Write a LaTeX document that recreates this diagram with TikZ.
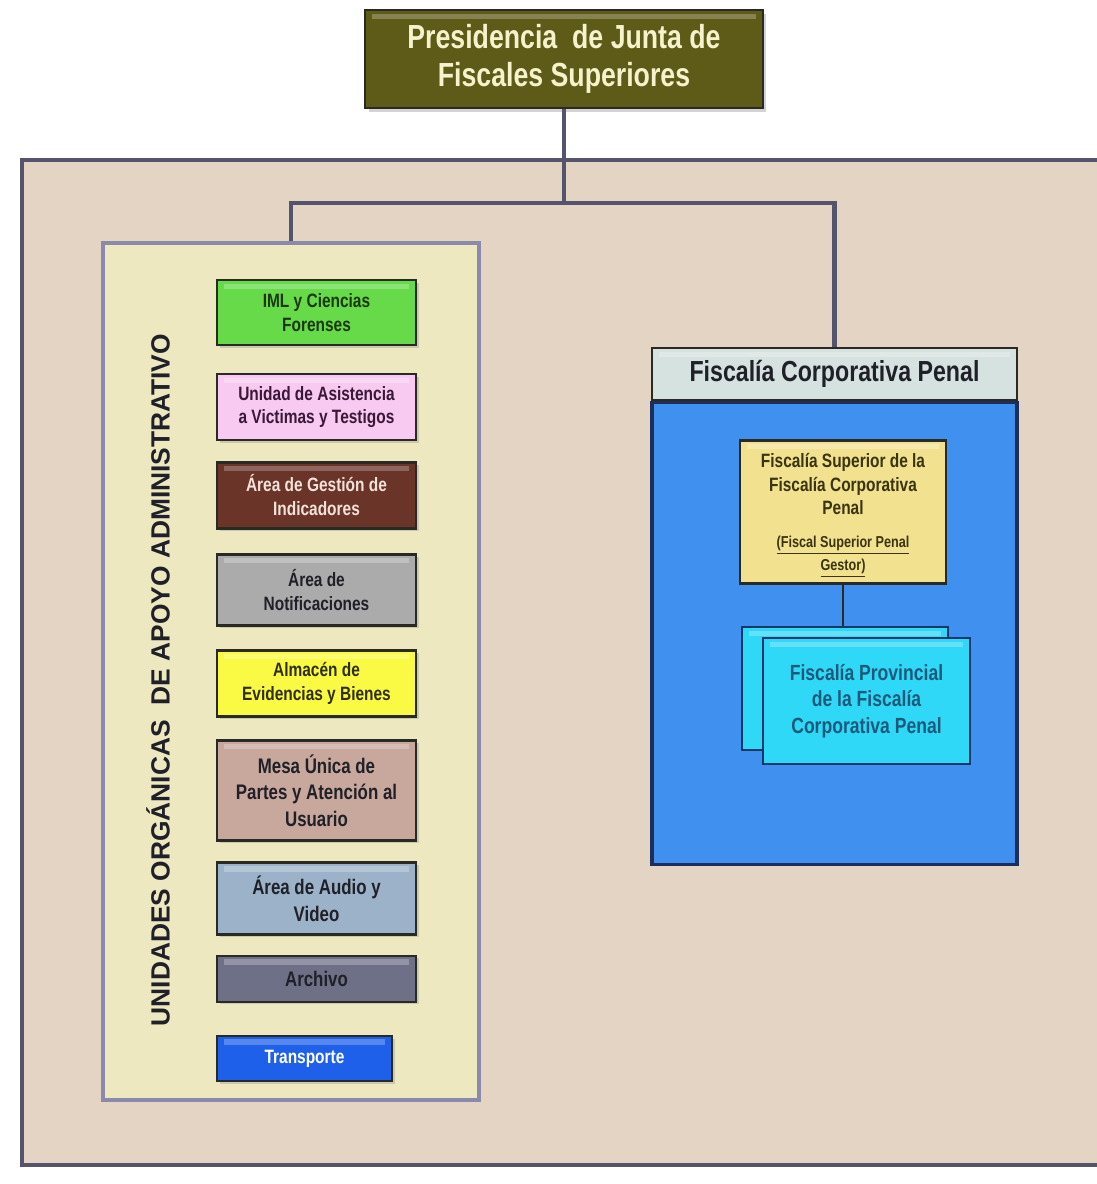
\documentclass[tikz,border=0pt]{standalone}
\usepackage{fontspec}
\setmainfont{Liberation Sans}
\newfontfamily\narrowfont{Liberation Sans}[FakeStretch=0.8]
\usepackage{tikz}
\usetikzlibrary{positioning}
\usetikzlibrary{shadows}

\definecolor{frameline}{HTML}{55546C}
\definecolor{framefill}{HTML}{E4D4C4}
\definecolor{panelfill}{HTML}{EEE8C0}
\definecolor{panelline}{HTML}{8C8AAA}
\definecolor{boxline}{HTML}{2A2A24}
\definecolor{olivebox}{HTML}{5E5A18}
\definecolor{creamtxt}{HTML}{F6F2CC}
\definecolor{imlfill}{HTML}{66DA48}
\definecolor{imltxt}{HTML}{1C3810}
\definecolor{victfill}{HTML}{F8CAF2}
\definecolor{victtxt}{HTML}{3A1838}
\definecolor{gestfill}{HTML}{6A3428}
\definecolor{gesttxt}{HTML}{F2E2DA}
\definecolor{notiffill}{HTML}{ABABAB}
\definecolor{almfill}{HTML}{FAFA44}
\definecolor{almtxt}{HTML}{2E2E10}
\definecolor{mesafill}{HTML}{C8A89C}
\definecolor{audiofill}{HTML}{9CB2C8}
\definecolor{archfill}{HTML}{6E7088}
\definecolor{transfill}{HTML}{1E60EA}
\definecolor{darktxt}{HTML}{202028}
\definecolor{fcpfill}{HTML}{D6E2E0}
\definecolor{azulfill}{HTML}{4090F0}
\definecolor{azulline}{HTML}{1E2E5A}
\definecolor{supfill}{HTML}{F2E290}
\definecolor{suptxt}{HTML}{3A3410}
\definecolor{provfill}{HTML}{30D8F8}
\definecolor{provline}{HTML}{10386A}
\definecolor{provtxt}{HTML}{1A5A7A}

\begin{document}
\begin{tikzpicture}[x=0.02cm, y=-0.02cm,
    gloss/.style={path picture={\fill[white, opacity=0.25]
        ([xshift=4pt,yshift=-2pt]path picture bounding box.north west) rectangle
        ([xshift=-4pt,yshift=-5pt]path picture bounding box.north east);}},
    unidad/.style={draw=boxline, line width=1.5pt, minimum width=3.98cm, minimum height=1.32cm,
        align=center, inner sep=1pt, font=\narrowfont\bfseries\fontsize{11}{13.5}\selectfont, gloss,
        drop shadow={shadow xshift=1.5pt, shadow yshift=-1.5pt, opacity=0.3}},
    conn/.style={draw=frameline, line width=2.3pt}]
    % Frame
    \clip (0,0) rectangle (1097,1184);
    \draw[draw=frameline, fill=framefill, line width=2.5pt] (22,160) rectangle (1130,1165);
    % Nodes
    \node[draw=boxline, fill=olivebox, line width=1.5pt, minimum width=7.96cm, minimum height=1.96cm,
        align=center, text=creamtxt, font=\narrowfont\bfseries\fontsize{19}{21.5}\selectfont, gloss,
        drop shadow={shadow xshift=2pt, shadow yshift=-2pt, opacity=0.35}]
        (pres) at (564,59) {\rule{0pt}{14pt}Presidencia\ \ de Junta de\\Fiscales Superiores};
    \coordinate (split) at (564,203);
    \node[draw=panelline, fill=panelfill, line width=2.2pt, minimum width=7.52cm, minimum height=17.14cm]
        (apoyo) at (291,671.5) {};
    \node[rotate=90, text=darktxt, font=\bfseries\fontsize{15}{16}\selectfont]
        (titulo) at (158,680) {UNIDADES ORGÁNICAS\ \ DE APOYO ADMINISTRATIVO};
    \node[unidad, fill=imlfill, text=imltxt, minimum height=1.3cm] (iml) at (316.5,312.5) {IML y Ciencias\\Forenses};
    \node[unidad, fill=victfill, text=victtxt, below=0.53cm of iml] (victimas) {Unidad de Asistencia\\a Victimas y Testigos};
    \node[unidad, fill=gestfill, text=gesttxt, below=0.39cm of victimas] (gestion) {Área de Gestión de\\Indicadores};
    \node[unidad, fill=notiffill, text=darktxt, minimum height=1.42cm, below=0.47cm of gestion] (notif) {Área de\\Notificaciones};
    \node[unidad, fill=almfill, text=almtxt, below=0.45cm of notif] (almacen) {Almacén de\\Evidencias y Bienes};
    \node[unidad, fill=mesafill, text=darktxt, minimum height=2cm, below=0.43cm of almacen,
        font=\narrowfont\bfseries\fontsize{12}{15}\selectfont] (mesa) {Mesa Única de\\Partes y Atención al\\Usuario};
    \node[unidad, fill=audiofill, text=darktxt, minimum height=1.44cm, below=0.39cm of mesa,
        font=\narrowfont\bfseries\fontsize{12}{15}\selectfont] (audio) {Área de Audio y\\Video};
    \node[unidad, fill=archfill, text=darktxt, minimum height=0.92cm, below=0.37cm of audio,
        font=\narrowfont\bfseries\fontsize{12}{15}\selectfont] (archivo) {Archivo};
    \node[unidad, fill=transfill, text=white, minimum width=3.5cm, minimum height=0.9cm,
        below=0.63cm of archivo.south west, anchor=north west] (transporte) {Transporte};
    \node[draw=boxline, fill=fcpfill, line width=1.5pt, minimum width=7.3cm, minimum height=1.04cm,
        text=darktxt, font=\narrowfont\bfseries\fontsize{16.5}{18}\selectfont, gloss]
        (fcp) at (834.5,374) {Fiscalía Corporativa Penal};
    \node[draw=azulline, fill=azulfill, line width=1.8pt, minimum width=7.3cm, minimum height=9.24cm,
        anchor=north] (azul) at (fcp.south) {};
    \node[draw=boxline, fill=supfill, line width=1.5pt, minimum width=4.12cm, minimum height=2.84cm,
        align=center, text=suptxt, font=\narrowfont\bfseries\fontsize{11}{13.5}\selectfont, gloss]
        (sup) at (843,512) {\rule{0pt}{12pt}Fiscalía Superior de la\\Fiscalía Corporativa\\Penal\\[5pt]
        {\fontsize{9}{11}\selectfont\underline{(Fiscal Superior Penal}}\\
        {\fontsize{9}{11}\selectfont\underline{Gestor)}}};
    \node[draw=provline, fill=provfill, line width=1.5pt, minimum width=4.12cm, minimum height=2.46cm, gloss]
        (provB) at (845,688.5) {};
    \node[draw=provline, fill=provfill, line width=1.5pt, minimum width=4.14cm, minimum height=2.52cm,
        align=center, text=provtxt, font=\narrowfont\bfseries\fontsize{12.5}{15}\selectfont, gloss]
        (prov) at ([shift={(21.5,12.5)}]provB) {Fiscalía Provincial\\de la Fiscalía\\Corporativa Penal};
    % Edges
    \draw[conn] (pres.south) -- (split);
    \draw[conn] (apoyo.north) |- (split) -| (fcp.north);
    \draw[draw=boxline, line width=1.5pt] (sup.south) -- (sup.south |- provB.north);
\end{tikzpicture}
\end{document}
